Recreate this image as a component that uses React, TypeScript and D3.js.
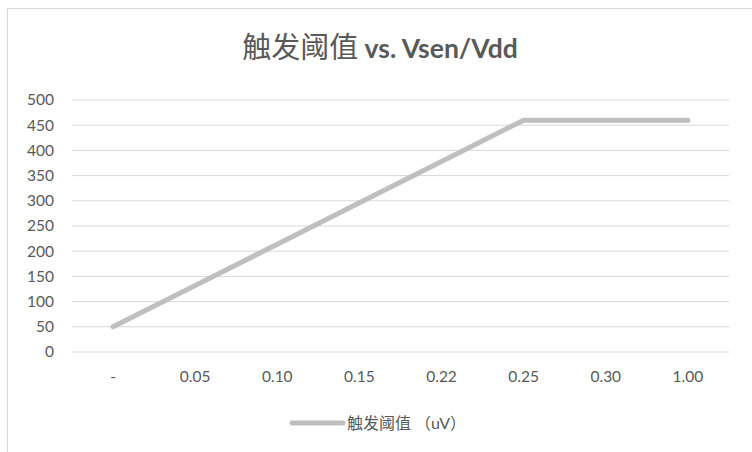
import * as d3 from "d3";

const WIDTH = 752;
const HEIGHT = 452;
const MARGIN = { top: 100, right: 23, bottom: 100, left: 72 };

const categories = ["-", "0.05", "0.10", "0.15", "0.22", "0.25", "0.30", "1.00"];
const thresholdValues = [50, 132, 214, 296, 378, 460, 460, 460];
const yTicks = [0, 50, 100, 150, 200, 250, 300, 350, 400, 450, 500];

const TITLE_CN = "触发阈值";
const TITLE_EN = " vs. Vsen/Vdd";
const SERIES_NAME = "触发阈值 （uV）";
const FONT = "Lato, 'Noto Sans CJK SC', sans-serif";
const TEXT_COLOR = "#595959";
const LINE_COLOR = "#bfbfbf";

export default function App() {
  const x = d3
    .scaleBand<string>()
    .domain(categories)
    .range([MARGIN.left, WIDTH - MARGIN.right]);

  const y = d3
    .scaleLinear()
    .domain([0, 500])
    .range([HEIGHT - MARGIN.bottom, MARGIN.top]);

  const points = categories.map((c, i) => [
    (x(c) ?? 0) + x.bandwidth() / 2,
    y(thresholdValues[i]),
  ] as [number, number]);

  const line = d3.line();

  return (
    <svg
      width={WIDTH}
      height={HEIGHT}
      style={{ position: "absolute", left: 0, top: 0 }}
      fontFamily={FONT}
    >
      <rect x={0} y={0} width={WIDTH} height={HEIGHT} fill="#fff" />
      <rect
        x={7.5}
        y={8.5}
        width={WIDTH}
        height={HEIGHT}
        fill="#fff"
        stroke="#d9d9d9"
      />

      <text
        x={380}
        y={58}
        textAnchor="middle"
        fontSize={29}
        fill={TEXT_COLOR}
      >
        <tspan>{TITLE_CN}</tspan>
        <tspan fontWeight={700} fontSize={26.5}>{TITLE_EN}</tspan>
      </text>

      {yTicks.map((t) => (
        <g key={t}>
          <line
            x1={MARGIN.left}
            x2={WIDTH - MARGIN.right}
            y1={y(t)}
            y2={y(t)}
            stroke="#d9d9d9"
            strokeWidth={1}
          />
          <text
            x={54}
            y={y(t)}
            dy="0.35em"
            textAnchor="end"
            fontSize={15.5}
            fill={TEXT_COLOR}
          >
            {t}
          </text>
        </g>
      ))}

      {categories.map((c) => (
        <text
          key={c}
          x={(x(c) ?? 0) + x.bandwidth() / 2}
          y={377}
          dy="0.35em"
          textAnchor="middle"
          fontSize={15.5}
          fill={TEXT_COLOR}
        >
          {c}
        </text>
      ))}

      <path
        d={line(points) ?? ""}
        fill="none"
        stroke={LINE_COLOR}
        strokeWidth={5}
        strokeLinecap="round"
        strokeLinejoin="round"
      />

      <line
        x1={292}
        x2={343}
        y1={423}
        y2={423}
        stroke={LINE_COLOR}
        strokeWidth={5}
        strokeLinecap="round"
      />
      <text x={347} y={423} dy="0.35em" fontSize={16} fill={TEXT_COLOR}>
        {SERIES_NAME}
      </text>
    </svg>
  );
}
